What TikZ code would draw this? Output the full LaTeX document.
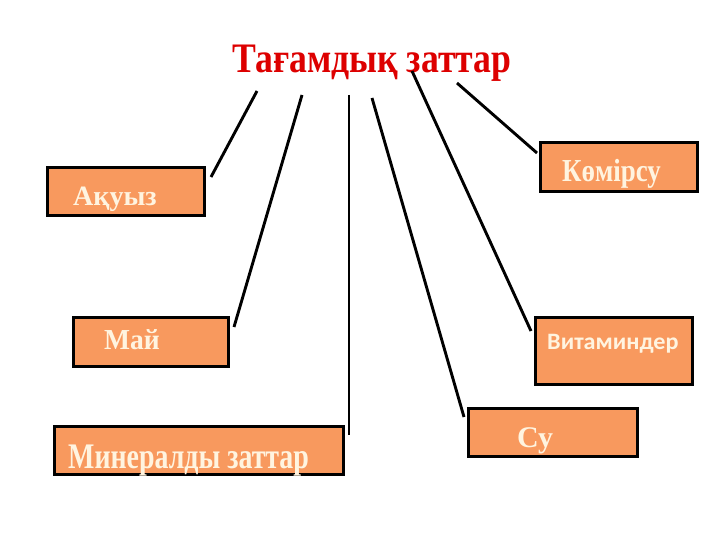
\documentclass[tikz,border=0pt]{standalone}
\usepackage{fontspec}
\usepackage{graphicx}
\setmainfont{Liberation Serif}
\newfontfamily\carl{Carlito}
\definecolor{boxfill}{HTML}{F8995E}
\definecolor{txtcol}{HTML}{FFF4E0}
\definecolor{titlered}{HTML}{DD0000}
\begin{document}
\begin{tikzpicture}[x=1pt,y=-1pt,
  itembox/.style={draw=black,line width=3pt,fill=boxfill,inner sep=0pt,rectangle},
  itemtxt/.style={anchor=base west,inner sep=0pt,text=txtcol},
  link/.style={draw=black,line width=2.9pt}]
\useasboundingbox (0,0) rectangle (720,540);
\fill[white] (0,0) rectangle (720,540);
% title
\node[anchor=base west,inner sep=0pt,text=titlered,font=\fontsize{42}{42}\selectfont\bfseries] (title) at (232,73) {\scalebox{0.85}[1]{Тағамдық заттар}};
% boxes
\node[itembox,minimum width=157pt,minimum height=48pt] (akuyz) at (125.5,192) {};
\node[itembox,minimum width=157pt,minimum height=49pt] (komirsu) at (618.5,167.5) {};
\node[itembox,minimum width=155pt,minimum height=49pt] (mai) at (150.5,341.5) {};
\node[itembox,minimum width=157pt,minimum height=67pt] (vitamin) at (613.5,350.5) {};
\node[itembox,minimum width=289pt,minimum height=48pt] (mineral) at (198.5,450) {};
\node[itembox,minimum width=169pt,minimum height=48pt] (su) at (552.5,432) {};
% labels
\node[itemtxt,font=\fontsize{28}{28}\selectfont\bfseries] (tA) at (73,206) {Ақуыз};
\node[itemtxt,font=\fontsize{32}{32}\selectfont\bfseries] (tK) at (562,182) {\scalebox{0.84}[1]{Көмірсу}};
\node[itemtxt,font=\fontsize{29}{29}\selectfont\bfseries] (tM) at (104,349) {\scalebox{0.95}[1]{Май}};
\node[itemtxt,font=\carl\fontsize{23.5}{23.5}\selectfont\bfseries] (tV) at (547,349) {\scalebox{1.03}[1]{Витаминдер}};
\node[itemtxt,font=\fontsize{36}{36}\selectfont\bfseries] (tMin) at (68,468) {\scalebox{0.775}[1]{Минералды заттар}};
\node[itemtxt,font=\fontsize{30}{30}\selectfont\bfseries] (tS) at (517,447) {Су};
% connector ends
\coordinate (a1) at (257,91);  \coordinate (b1) at (211,177);
\coordinate (a2) at (302,95);  \coordinate (b2) at (234,327);
\coordinate (a3) at (349,95);  \coordinate (b3) at (349,435);
\coordinate (a4) at (372,98);  \coordinate (b4) at (464,417);
\coordinate (a5) at (412,71);  \coordinate (b5) at (531,331);
\coordinate (a6) at (457,83);  \coordinate (b6) at (537,153);
\draw[link] (a1) -- (b1);
\draw[link] (a2) -- (b2);
\draw[link,line width=2pt] (a3) -- (b3);
\draw[link] (a4) -- (b4);
\draw[link] (a5) -- (b5);
\draw[link] (a6) -- (b6);
\end{tikzpicture}
\end{document}
